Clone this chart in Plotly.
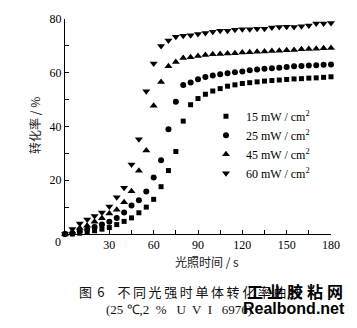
import plotly.graph_objects as go

# Irradiation time (s)
time_s = [0, 5, 10, 15, 20, 25, 30, 35, 40, 45, 50, 55, 60, 65, 70, 75, 80, 85, 90,
          95, 100, 105, 110, 115, 120, 125, 130, 135, 140, 145, 150, 155, 160, 165,
          170, 175, 180]

# Monomer conversion (%) at each light intensity
conv_15 = [0, 0, 0.3, 0.7, 1.2, 1.8, 2.4, 3.5, 4.7, 6.0, 7.9, 10.0, 12.9, 17.6, 23.6,
           30.7, 42.0, 48.1, 50.4, 52.0, 53.2, 54.1, 55.0, 55.5, 56.0, 56.3, 56.6,
           56.9, 57.1, 57.3, 57.5, 57.7, 57.8, 58.0, 58.1, 58.3, 58.5]
conv_25 = [0, 0.3, 1.0, 1.7, 2.6, 3.5, 4.6, 6.0, 8.0, 10.6, 12.6, 15.8, 21.0, 27.4,
           39.0, 49.2, 55.4, 56.4, 57.6, 58.4, 59.0, 59.4, 59.8, 60.2, 60.5, 60.9,
           61.2, 61.5, 61.7, 61.9, 62.1, 62.4, 62.5, 62.7, 62.8, 63.0, 63.1]
conv_45 = [0, 0.8, 2.2, 3.1, 4.6, 5.9, 7.6, 9.0, 11.8, 15.9, 23.5, 31.1, 47.7, 56.6,
           62.4, 64.0, 65.5, 65.8, 66.2, 66.6, 66.9, 67.0, 67.2, 67.3, 67.5, 67.6,
           67.8, 67.9, 68.1, 68.2, 68.4, 68.5, 68.7, 68.8, 68.9, 69.1, 69.2]
conv_60 = [0, 1.9, 3.9, 5.4, 6.7, 8.0, 10.2, 13.7, 17.2, 25.9, 35.3, 53.1, 63.4, 70.0,
           72.0, 73.4, 73.8, 74.0, 74.4, 74.8, 75.3, 75.6, 75.6, 76.0, 76.2, 76.2,
           76.4, 76.4, 76.8, 77.0, 77.1, 77.0, 77.3, 77.6, 78.3, 78.3, 78.5]

series_names = ["15 mW / cm<sup>2</sup>", "25 mW / cm<sup>2</sup>",
                "45 mW / cm<sup>2</sup>", "60 mW / cm<sup>2</sup>"]
series_values = [conv_15, conv_25, conv_45, conv_60]
symbols = ["square", "circle", "triangle-up", "triangle-down"]
sizes = [5, 6, 7, 7]

x_ticks = [0, 30, 60, 90, 120, 150, 180]
y_ticks = [0, 20, 40, 60, 80]

SERIF = "Liberation Serif"
CJK = "Noto Sans CJK SC"
THIN = "\u2009"   # thin space used to letter-space the caption
GAP = "\u2005"    # four-per-em space for the site mark


def spaced(text, sep):
    return sep.join(text)


fig = go.Figure()
for name, vals, sym, sz in zip(series_names, series_values, symbols, sizes):
    fig.add_trace(go.Scatter(
        x=time_s, y=vals, mode="markers", name=name,
        marker=dict(symbol=sym, size=sz, color="black", line=dict(width=0)),
        cliponaxis=False,
    ))

axis_common = dict(
    showgrid=False, zeroline=False, showline=True, linecolor="black", linewidth=1,
    ticks="inside", ticklen=4, tickwidth=1, tickcolor="black",
    tickfont=dict(family=SERIF, size=12, color="black"),
)

fig.update_xaxes(
    range=[0, 180], tickvals=x_ticks,
    ticktext=["" if v == 0 else str(v) for v in x_ticks],
    minor=dict(tickvals=[15, 45, 75, 105, 135, 165], ticks="inside", ticklen=4,
               tickcolor="black"),
    **axis_common,
)
fig.update_yaxes(
    range=[0, 80], tickvals=y_ticks,
    ticktext=["" if v == 0 else str(v) for v in y_ticks],
    minor=dict(tickvals=[10, 30, 50, 70], ticks="inside", ticklen=4,
               tickcolor="black"),
    **axis_common,
)


def label(x, y, text, family, size, color="#111", angle=0, xref="paper", yref="paper",
          **extra):
    return dict(x=x, y=y, xref=xref, yref=yref, text=text, showarrow=False,
                xanchor="center", yanchor="middle", textangle=angle,
                font=dict(family=family, size=size, color=color), **extra)


caption_1 = "图" + THIN * 2 + "6" + THIN * 5 + spaced("不同光强时单体转化率曲线", THIN)
caption_2 = "(25 ℃,2  %   U  V  I   6976)"
site_cn = "<b>" + spaced("工业胶粘网", GAP) + "</b>"

annotations = [
    # shared origin label
    label(0, 0, "0", SERIF, 12, "black", xref="x", yref="y", xshift=-7, yshift=-8),
    # axis titles
    label(0.534, -0.127, "光照时间 / s", CJK, 12, "#222"),
    label(-0.113, 0.507, "转化率 / %", CJK, 12, "#222", angle=-90),
    # figure caption
    label(0.47, -0.267, caption_1, CJK, 13),
    label(0.428, -0.352, caption_2, SERIF, 13),
    # site mark
    label(0.865, -0.267, site_cn, CJK, 16, "black"),
    label(0.861, -0.348, "<b>Realbond.net</b>", "Liberation Sans", 16, "black"),
]

fig.update_layout(
    width=357, height=328,
    margin=dict(l=65, r=26, t=13, b=94),
    paper_bgcolor="white", plot_bgcolor="white",
    showlegend=True,
    legend=dict(x=0.53, y=0.615, xanchor="left", yanchor="top",
                bgcolor="rgba(0,0,0,0)", borderwidth=0, tracegroupgap=0,
                font=dict(family=SERIF, size=12, color="black")),
    annotations=annotations,
)

fig.write_html("out.html")
